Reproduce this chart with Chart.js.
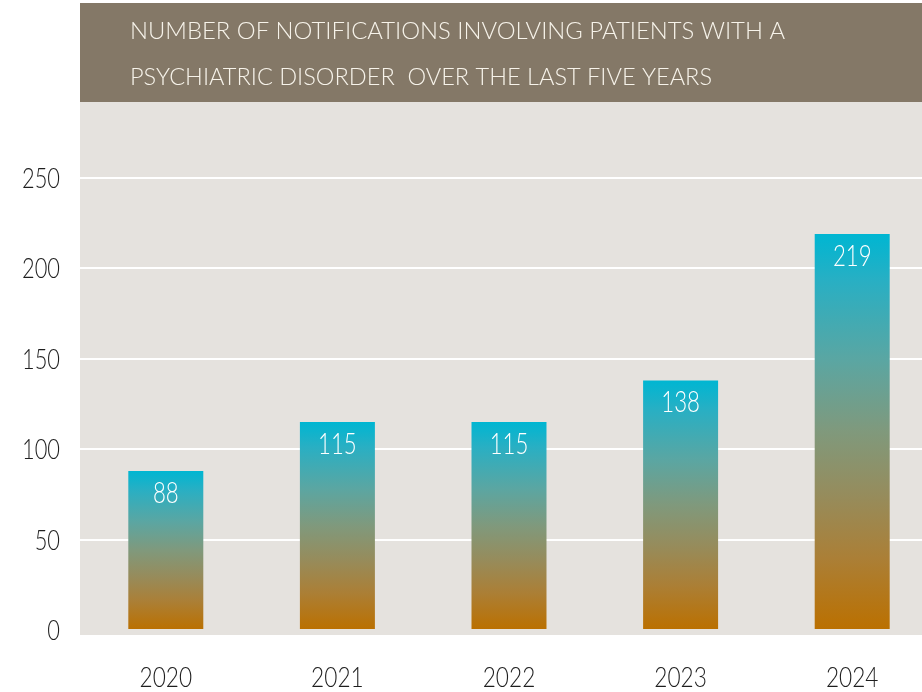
<!DOCTYPE html>
<html>
<head>
<meta charset="utf-8">
<script src="https://cdn.jsdelivr.net/npm/chart.js@4.4.1/dist/chart.umd.min.js"></script>
<style>
  html, body { margin:0; padding:0; background:#ffffff; overflow:hidden; }
  #wrap { position:relative; width:938px; height:692px; }
</style>
</head>
<body>
<div id="wrap"><canvas id="c" width="938" height="692"></canvas></div>
<script>
const titleLines = ["NUMBER OF NOTIFICATIONS INVOLVING PATIENTS WITH A", "PSYCHIATRIC DISORDER  OVER THE LAST FIVE YEARS"];
const years = ["2020", "2021", "2022", "2023", "2024"];
const notifications = [88, 115, 115, 138, 219];
const yTicks = [0, 50, 100, 150, 200, 250];

const FONT = 'Lato, "Open Sans", sans-serif';

function barGradient(ctx) {
  const chart = ctx.chart;
  if (!chart.chartArea || ctx.type !== 'data') return '#5aa6a4';
  const y = chart.scales.y;
  const top = y.getPixelForValue(ctx.parsed.y);
  const bottom = y.getPixelForValue(0);
  const g = chart.ctx.createLinearGradient(0, top, 0, bottom);
  g.addColorStop(0, '#00b6d2');
  g.addColorStop(0.05, '#10b3cc');
  g.addColorStop(0.12, '#29afc3');
  g.addColorStop(0.32, '#5ba6a2');
  g.addColorStop(0.5, '#80997c');
  g.addColorStop(0.66, '#968c5c');
  g.addColorStop(0.82, '#ab7f36');
  g.addColorStop(1, '#bb7000');
  return g;
}

function condensedText(c, text, x, y, sx, align) {
  const w = c.measureText(text).width * sx;
  let x0 = x;
  if (align === 'center') x0 = x - w / 2;
  else if (align === 'right') x0 = x - w;
  c.save();
  c.translate(x0, y);
  c.scale(sx, 1);
  c.textAlign = 'left';
  c.fillText(text, 0, 0);
  c.restore();
}

const backdrop = {
  id: 'backdrop',
  beforeDraw(chart) {
    const c = chart.ctx, a = chart.chartArea;
    c.save();
    c.fillStyle = '#ffffff';
    c.fillRect(0, 0, chart.width, chart.height);
    c.fillStyle = '#e5e2de';
    c.fillRect(a.left, 100, chart.width - a.left, a.bottom + 5 - 100);
    c.restore();
  },
  afterDatasetsDraw(chart) {
    const c = chart.ctx, a = chart.chartArea;
    const ys = chart.scales.y, xs = chart.scales.x;
    c.save();
    // value labels
    const meta = chart.getDatasetMeta(0);
    c.fillStyle = '#ffffff';
    c.font = '300 30px ' + FONT;
    c.textBaseline = 'middle';
    meta.data.forEach((el, i) => {
      condensedText(c, String(notifications[i]), el.x, el.y + 22, 0.74, 'center');
    });
    // axis tick labels
    c.fillStyle = '#1e1e1e';
    c.font = '300 28px ' + FONT;
    c.textBaseline = 'middle';
    yTicks.forEach(v => {
      condensedText(c, String(v), a.left - 20, ys.getPixelForValue(v) + 1, 0.78, 'right');
    });
    c.font = '300 27px ' + FONT;
    years.forEach((yr, i) => {
      condensedText(c, yr, xs.getPixelForValue(i), 678, 0.84, 'center');
    });
    // title band
    c.fillStyle = '#847867';
    c.fillRect(a.left, 3, chart.width - a.left, 99);
    c.fillStyle = '#f7f3ea';
    c.font = '300 23px ' + FONT;
    c.textBaseline = 'alphabetic';
    const targets = [[130, 39, 655], [130, 85, 582]];
    titleLines.forEach((t, i) => {
      const [x, y, w] = targets[i];
      const m = c.measureText(t).width;
      condensedText(c, t, x, y, w / m, 'left');
    });
    c.restore();
  }
};

new Chart(document.getElementById('c'), {
  type: 'bar',
  data: {
    labels: years,
    datasets: [{
      data: notifications,
      backgroundColor: barGradient,
      borderWidth: 0,
      barPercentage: 0.437,
      categoryPercentage: 1.0
    }]
  },
  options: {
    responsive: false,
    animation: false,
    layout: { padding: { left: 0, right: 0, top: 103, bottom: 0 } },
    plugins: { legend: { display: false }, tooltip: { enabled: false }, title: { display: false } },
    scales: {
      x: {
        grid: { display: false, drawTicks: false },
        border: { display: false },
        ticks: { display: false },
        afterFit(s) { s.height = 62; }
      },
      y: {
        min: 0,
        max: 291.5,
        afterBuildTicks(s) { s.ticks = yTicks.map(v => ({ value: v })); },
        grid: {
          drawTicks: false,
          color: (ctx) => (ctx.tick && ctx.tick.value > 0) ? '#ffffff' : 'rgba(0,0,0,0)',
          lineWidth: 2
        },
        border: { display: false },
        ticks: { display: false },
        afterFit(s) { s.width = 80; }
      }
    }
  },
  plugins: [backdrop]
});
</script>
</body>
</html>
